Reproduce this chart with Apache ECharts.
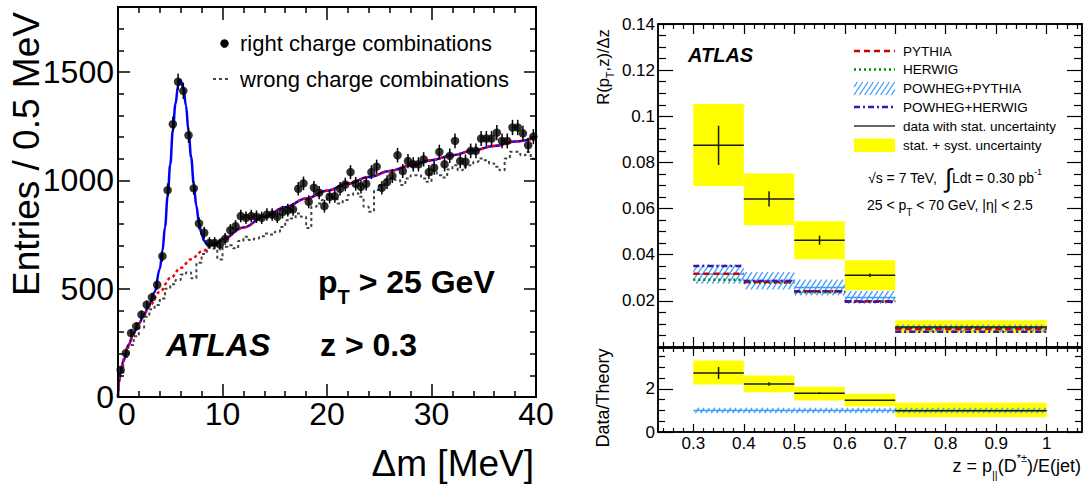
<!DOCTYPE html>
<html>
<head>
<meta charset="utf-8">
<script src="https://cdn.jsdelivr.net/npm/echarts@6/dist/echarts.min.js"></script>
<style>
  html, body { margin: 0; padding: 0; background: #fff; }
  #chart { width: 1085px; height: 491px; }
</style>
</head>
<body>
<div id="chart"></div>
<script>
const FONT = "'Liberation Sans', Arial, Helvetica, sans-serif";

// ---------- Left panel: D*-D0 mass difference (0.5 MeV bins) ----------
const dmCentres = [0.25,0.75,1.25,1.75,2.25,2.75,3.25,3.75,4.25,4.75,5.25,5.75,6.25,6.75,7.25,7.75,8.25,8.75,9.25,9.75,
  10.25,10.75,11.25,11.75,12.25,12.75,13.25,13.75,14.25,14.75,15.25,15.75,16.25,16.75,17.25,17.75,18.25,18.75,19.25,19.75,
  20.25,20.75,21.25,21.75,22.25,22.75,23.25,23.75,24.25,24.75,25.25,25.75,26.25,26.75,27.25,27.75,28.25,28.75,29.25,29.75,
  30.25,30.75,31.25,31.75,32.25,32.75,33.25,33.75,34.25,34.75,35.25,35.75,36.25,36.75,37.25,37.75,38.25,38.75,39.25,39.75];
const dmBinHalfWidth = 0.25;

const rightCharge = [125,202,295,326,380,426,460,518,650,955,1259,1455,1413,1208,963,801,758,711,711,704,
  730,770,788,835,827,835,832,827,842,842,832,853,862,866,961,986,901,966,943,881,
  924,927,961,981,1038,984,970,984,1038,1063,966,992,1020,1116,1043,1089,1074,1074,1097,1038,
  1058,1131,1074,1113,1182,1089,1086,1136,1136,1193,1193,1193,1220,1182,1182,1244,1244,1217,1162,1202];

const wrongCharge = [105,185,240,280,320,370,405,425,455,500,520,540,565,575,548,620,660,690,685,635,
  694,700,686,720,740,725,732,742,755,750,763,785,816,824,847,832,780,878,893,909,
  932,916,893,909,932,940,924,878,855,955,978,1001,1009,1001,978,1009,1024,1024,1009,993,
  1047,1024,1013,1050,1070,1047,1063,1070,1086,1101,1093,1078,1063,1047,1101,1132,1132,1116,1131,1100];

// background-only fit curve (sampled)
const bkgFitX = [0,0.1,0.25,0.5,1,1.5,2,2.5,3,4,5,6,7,8,9,10,12,14,16,18,20,22,24,26,28,30,32,34,36,38,40];
const bkgFitY = [0,70,110,165,240,295,340,382,420,485,548,596,636,670,700,728,782,832,876,916,952,985,1015,1043,1069,1093,1116,1138,1159,1179,1198];

// signal + background fit curve (sampled)
const fullFitX = [0,0.1,0.25,0.5,1,1.5,2,2.5,3,3.5,4,4.25,4.5,4.75,5,5.25,5.5,5.75,5.95,6.25,6.5,6.75,7,7.25,7.5,7.75,8,8.25,8.5,8.75,9,9.5,10,12,14,16,18,20,22,24,26,28,30,32,34,36,38,40];
const fullFitY = [0,70,110,165,240,295,340,382,427,484,591,675,785,926,1073,1231,1353,1436,1462,1428,1346,1228,1106,983,881,804,752,721,706,701,703,713,728,782,832,876,916,952,985,1015,1043,1069,1093,1116,1138,1159,1179,1198];

const dmTickLabels = [0,10,20,30,40];
const entriesTickLabels = [0,500,1000,1500];

// ---------- Right panel: fragmentation function in z ----------
const zLo = [0.3,0.4,0.5,0.6,0.7];
const zHi = [0.4,0.5,0.6,0.7,1.0];
const dataR      = [0.0874,0.0642,0.0463,0.0311,0.0087];
const dataRStat  = [0.0085,0.0033,0.0020,0.0008,0.0003];
const dataRTotLo = [0.0698,0.0528,0.0380,0.0246,0.0061];
const dataRTotHi = [0.1053,0.0752,0.0545,0.0376,0.0116];
const pythiaR    = [0.0318,0.0282,0.0242,0.0198,0.0078];
const herwigR    = [0.0292,0.0279,0.0237,0.0198,0.0082];
const powPyR     = [0.0316,0.0288,0.0258,0.0215,0.0082];
const powPyRLo   = [0.0275,0.0250,0.0224,0.0188,0.0066];
const powPyRHi   = [0.0357,0.0325,0.0292,0.0242,0.0097];
const powHwR     = [0.0351,0.0286,0.0242,0.0196,0.0066];

const ratio      = [2.74,2.23,1.80,1.47,0.99];
const ratioStat  = [0.28,0.08,0.04,0.02,0.01];
const ratioTotLo = [2.20,1.84,1.46,1.19,0.68];
const ratioTotHi = [3.32,2.62,2.10,1.78,1.36];
const theoryRatio   = [1,1,1,1,1];
const theoryRatioLo = [0.88,0.88,0.88,0.88,0.88];
const theoryRatioHi = [1.12,1.12,1.12,1.12,1.12];

const zTickLabels = [0.3,0.4,0.5,0.6,0.7,0.8,0.9,1];
const rTickLabels = [0.02,0.04,0.06,0.08,0.1,0.12,0.14];
const ratioTickLabels = [0,2];

// ---------- helpers ----------
function steps(from, to, step, skipEvery) {
  const out = [];
  const n = Math.round((to - from) / step);
  for (let i = 0; i <= n; i++) {
    const v = Math.round((from + i * step) * 1e6) / 1e6;
    if (skipEvery && Math.abs(v / skipEvery - Math.round(v / skipEvery)) < 1e-6) continue;
    out.push(v);
  }
  return out;
}

// four axes per direction: labelled major, minor, mirrored major, mirrored minor (ticks inward)
function frameAxes(grid, dir, c) {
  const sides = dir === 'x' ? ['bottom', 'top'] : ['left', 'right'];
  const out = [];
  sides.forEach((pos, s) => {
    [[c.major, c.majLen], [c.minor, c.minLen]].forEach(([vals, len], k) => {
      out.push({
        type: 'value', gridIndex: grid, position: pos, min: c.min, max: c.max,
        axisLine: { show: true, onZero: false, lineStyle: { color: '#000', width: c.lw } },
        axisTick: { show: true, inside: true, length: len, customValues: vals,
                    lineStyle: { color: '#000', width: c.tw } },
        axisLabel: Object.assign({ show: s === 0 && k === 0 && !!c.labels, customValues: c.labels || vals,
                    color: '#000', fontFamily: FONT, formatter: v => String(v) }, c.label || {}),
        splitLine: { show: false }, z: 10
      });
    });
  });
  return out;
}

function hatch(x0, y0, x1, y1, gap, slope, style) {
  // '/' strokes clipped to the rectangle [x0,x1]x[y0,y1] (pixels), phase-locked globally
  const els = [];
  const kStart = Math.ceil((y0 + slope * x0) / gap) * gap;
  const kEnd = y1 + slope * x1;
  for (let k = kStart; k <= kEnd; k += gap) {
    const c = k - slope * x0;
    let xa = Math.max(x0 + (c - y1) / slope, x0);
    let xb = Math.min(x0 + (c - y0) / slope, x1);
    if (xb - xa < 0.3) continue;
    els.push({ type: 'line', shape: { x1: xa, y1: c - slope * (xa - x0), x2: xb, y2: c - slope * (xb - x0) }, style });
  }
  return els;
}

const HATCH_STYLE = { stroke: '#3d9bff', lineWidth: 1.3 };

// ---------- series builders ----------
function boxSeries(xi, yi, lo, hi, ylo, yhi, fill, z) {
  return {
    type: 'custom', xAxisIndex: xi, yAxisIndex: yi, z: z,
    data: lo.map((v, i) => [v, hi[i], ylo[i], yhi[i]]),
    encode: { x: [0, 1], y: [2, 3] },
    renderItem: (p, api) => {
      const a = api.coord([api.value(0), api.value(3)]);
      const b = api.coord([api.value(1), api.value(2)]);
      return { type: 'rect', shape: { x: a[0], y: a[1], width: b[0] - a[0], height: b[1] - a[1] }, style: { fill } };
    }
  };
}
function hatchSeries(xi, yi, lo, hi, ylo, yhi, z) {
  return {
    type: 'custom', xAxisIndex: xi, yAxisIndex: yi, z: z,
    data: lo.map((v, i) => [v, hi[i], ylo[i], yhi[i]]),
    encode: { x: [0, 1], y: [2, 3] },
    renderItem: (p, api) => {
      const a = api.coord([api.value(0), api.value(3)]);
      const b = api.coord([api.value(1), api.value(2)]);
      return { type: 'group', children: hatch(a[0], a[1], b[0], b[1], 8, 1.5, HATCH_STYLE) };
    }
  };
}
function levelSeries(xi, yi, lo, hi, vals, style, z) {
  return {
    type: 'custom', xAxisIndex: xi, yAxisIndex: yi, z: z,
    data: lo.map((v, i) => [v, hi[i], vals[i]]),
    encode: { x: [0, 1], y: 2 },
    renderItem: (p, api) => {
      const a = api.coord([api.value(0), api.value(2)]);
      const b = api.coord([api.value(1), api.value(2)]);
      return { type: 'line', shape: { x1: a[0], y1: a[1], x2: b[0], y2: b[1] }, style: Object.assign({ fill: null }, style) };
    }
  };
}
function crossSeries(xi, yi, lo, hi, vals, errs, z) {
  return {
    type: 'custom', xAxisIndex: xi, yAxisIndex: yi, z: z,
    data: lo.map((v, i) => [v, hi[i], vals[i], errs[i]]),
    encode: { x: [0, 1], y: 2 },
    renderItem: (p, api) => {
      const lo = api.value(0), hi = api.value(1), y = api.value(2), e = api.value(3);
      const a = api.coord([lo, y]), b = api.coord([hi, y]);
      const m = (lo + hi) / 2;
      const t = api.coord([m, y + e]), u = api.coord([m, y - e]);
      const st = { stroke: '#1a1a1a', lineWidth: 1.5 };
      return { type: 'group', children: [
        { type: 'line', shape: { x1: a[0], y1: a[1], x2: b[0], y2: b[1] }, style: st },
        { type: 'line', shape: { x1: t[0], y1: t[1], x2: u[0], y2: u[1] }, style: st }
      ] };
    }
  };
}

// step-histogram outline for the wrong-charge sample
const wrongStep = [];
dmCentres.forEach((c, i) => {
  wrongStep.push([c - dmBinHalfWidth, wrongCharge[i]]);
  wrongStep.push([c + dmBinHalfWidth, wrongCharge[i]]);
});

const PY = { stroke: '#cc0000', lineWidth: 2.5, lineDash: [6, 4] };
const HW = { stroke: '#008a00', lineWidth: 2.5, lineDash: [2, 3] };
const PH = { stroke: '#3b14b4', lineWidth: 2.5, lineDash: [6, 3, 2, 3] };
const PP = { stroke: '#3d9bff', lineWidth: 1.5 };

// ---------- axes ----------
const xAxes = [].concat(
  frameAxes(0, 'x', { min: 0, max: 40, major: dmTickLabels, labels: dmTickLabels, minor: steps(0, 40, 2, 10),
    majLen: 13, minLen: 6, lw: 2, tw: 1.5, label: { fontSize: 32, margin: 1, alignMinLabel: 'left' } }),
  frameAxes(1, 'x', { min: 0.23, max: 1.07, major: zTickLabels, labels: null, minor: steps(0.24, 1.06, 0.02, 0.1),
    majLen: 10, minLen: 5, lw: 1.5, tw: 1.2 }),
  frameAxes(2, 'x', { min: 0.23, max: 1.07, major: zTickLabels, labels: zTickLabels, minor: steps(0.24, 1.06, 0.02, 0.1),
    majLen: 8, minLen: 4, lw: 1.5, tw: 1.2, label: { fontSize: 17, margin: 3 } })
);
const yAxes = [].concat(
  frameAxes(0, 'y', { min: 0, max: 1800, major: entriesTickLabels, labels: entriesTickLabels, minor: steps(100, 1700, 100, 500),
    majLen: 12, minLen: 6, lw: 2, tw: 1.5, label: { fontSize: 32, margin: 4 } }),
  frameAxes(1, 'y', { min: 0, max: 0.14, major: rTickLabels, labels: rTickLabels, minor: steps(0.005, 0.135, 0.005, 0.02),
    majLen: 15, minLen: 8, lw: 1.5, tw: 1.2, label: { fontSize: 17, margin: 3 } }),
  frameAxes(2, 'y', { min: 0, max: 3.9, major: ratioTickLabels, labels: ratioTickLabels, minor: steps(0.5, 3.5, 0.5, 2),
    majLen: 15, minLen: 7, lw: 1.5, tw: 1.2, label: { fontSize: 17, margin: 3 } })
);

// ---------- text & legends ----------
const T = (x, y, text, st, extra) => Object.assign({ type: 'text', x, y, z: 100,
  style: Object.assign({ text, fill: '#000', fontFamily: FONT, align: 'left', verticalAlign: 'middle' }, st) }, extra || {});
const L = (x1, y1, x2, y2, st) => ({ type: 'line', z: 100, shape: { x1, y1, x2, y2 }, style: st });

const graphics = [
  // left panel
  T(26, 154, 'Entries / 0.5 MeV', { fontSize: 37, align: 'center' }, { rotation: Math.PI / 2 }),
  T(534, 463, 'Δm [MeV]', { fontSize: 37, align: 'right' }),
  { type: 'circle', z: 100, shape: { cx: 224.5, cy: 43.5, r: 4.2 }, style: { fill: '#000' } },
  T(240, 43, 'right charge combinations', { fontSize: 22 }),
  L(213, 79, 231, 79, { stroke: '#444', lineWidth: 2, lineDash: [3, 3] }),
  T(240, 79, 'wrong charge combinations', { fontSize: 22 }),
  T(318, 282, '{m|p}{s|T}{m| > 25 GeV}', { rich: {
      m: { fontSize: 32, fontWeight: 'bold', fontFamily: FONT, lineHeight: 50 },
      s: { fontSize: 20, fontWeight: 'bold', fontFamily: FONT, lineHeight: 16, verticalAlign: 'bottom' } } }),
  T(166, 345, 'ATLAS', { fontSize: 32, fontWeight: 'bold', fontStyle: 'italic' }),
  T(320, 345, 'z > 0.3', { fontSize: 32, fontWeight: 'bold' }),

  // right panel
  T(603, 67, '{m|R(p}{s|T}{m|,z)/Δz}', { align: 'center', rich: {
      m: { fontSize: 16.5, fontFamily: FONT, lineHeight: 24 },
      s: { fontSize: 11, fontFamily: FONT, lineHeight: 10, verticalAlign: 'bottom' } } }, { rotation: Math.PI / 2 }),
  T(603, 398, 'Data/Theory', { fontSize: 18, align: 'center' }, { rotation: Math.PI / 2 }),
  T(1081, 466, '{m|z = p}{s|||}{m|(D}{u|*±}{m|)/E(jet)}', { align: 'right', rich: {
      m: { fontSize: 18, fontFamily: FONT, lineHeight: 28 },
      s: { fontSize: 11, fontFamily: FONT, lineHeight: 11, verticalAlign: 'bottom' },
      u: { fontSize: 11, fontFamily: FONT, lineHeight: 11, verticalAlign: 'top' } } }),
  T(688, 55, 'ATLAS', { fontSize: 20, fontWeight: 'bold', fontStyle: 'italic' }),

  L(854, 51, 895, 51, PY),
  T(903, 51, 'PYTHIA', { fontSize: 13.5 }),
  L(854, 69.5, 895, 69.5, HW),
  T(903, 69.5, 'HERWIG', { fontSize: 13.5 }),
  { type: 'group', z: 100, children: hatch(854, 82, 895, 95, 8, 1.5, HATCH_STYLE) },
  T(903, 88.5, 'POWHEG+PYTHIA', { fontSize: 13.5 }),
  L(854, 107, 895, 107, PH),
  T(903, 107, 'POWHEG+HERWIG', { fontSize: 13.5 }),
  L(854, 126, 895, 126, { stroke: '#666', lineWidth: 2 }),
  T(903, 126, 'data with stat. uncertainty', { fontSize: 13.5 }),
  { type: 'rect', z: 100, shape: { x: 854, y: 138.5, width: 41, height: 13.5 }, style: { fill: '#ffff00' } },
  T(903, 145, 'stat. + syst. uncertainty', { fontSize: 13.5 }),

  T(868, 178, '{m|√s = 7 TeV,  }{i|∫}{m|Ldt = 0.30 pb}{u|-1}', { rich: {
      m: { fontSize: 14, fontFamily: FONT, lineHeight: 22 },
      i: { fontSize: 26, fontFamily: FONT, lineHeight: 22 },
      u: { fontSize: 9, fontFamily: FONT, lineHeight: 9, verticalAlign: 'top' } } }),
  T(867, 205, '{m|25 < p}{s|T}{m| < 70 GeV, |η| < 2.5}', { rich: {
      m: { fontSize: 14, fontFamily: FONT, lineHeight: 24 },
      s: { fontSize: 10, fontFamily: FONT, lineHeight: 10, verticalAlign: 'bottom' } } })
];

// ---------- option ----------
const option = {
  animation: false,
  backgroundColor: '#fff',
  grid: [
    { left: 118, top: 7, width: 418, height: 390 },
    { left: 658, top: 24, width: 424, height: 323 },
    { left: 658, top: 348, width: 424, height: 84 }
  ],
  xAxis: xAxes,
  yAxis: yAxes,
  series: [
    // left panel
    { type: 'line', xAxisIndex: 0, yAxisIndex: 0, data: wrongStep, showSymbol: false, z: 2,
      lineStyle: { color: '#444', width: 2, type: [3, 3] } },
    { type: 'line', xAxisIndex: 0, yAxisIndex: 0, data: fullFitX.map((x, i) => [x, fullFitY[i]]), showSymbol: false,
      smooth: 0.4, smoothMonotone: 'x', z: 3, lineStyle: { color: '#0000ff', width: 2.5 } },
    { type: 'line', xAxisIndex: 0, yAxisIndex: 0, data: bkgFitX.map((x, i) => [x, bkgFitY[i]]), showSymbol: false,
      smooth: 0.4, smoothMonotone: 'x', z: 4, lineStyle: { color: '#ff0000', width: 2.5, type: [3, 3] } },
    { type: 'custom', xAxisIndex: 0, yAxisIndex: 0, z: 5,
      // Poisson uncertainty on each bin count
      data: dmCentres.map((x, i) => [x, rightCharge[i], Math.sqrt(rightCharge[i])]),
      encode: { x: 0, y: 1 },
      renderItem: (p, api) => {
        const x = api.value(0), y = api.value(1), e = api.value(2);
        const a = api.coord([x, y - e]), b = api.coord([x, y + e]);
        return { type: 'line', shape: { x1: a[0], y1: a[1], x2: b[0], y2: b[1] }, style: { stroke: '#000', lineWidth: 1.5 } };
      } },
    { type: 'scatter', xAxisIndex: 0, yAxisIndex: 0, z: 6, symbol: 'circle', symbolSize: 8.5,
      itemStyle: { color: '#000' }, data: dmCentres.map((x, i) => [x, rightCharge[i]]) },

    // right panel, upper
    boxSeries(4, 4, zLo, zHi, dataRTotLo, dataRTotHi, '#ffff00', 2),
    hatchSeries(4, 4, zLo, zHi, powPyRLo, powPyRHi, 3),
    levelSeries(4, 4, zLo, zHi, powPyR, PP, 4),
    levelSeries(4, 4, zLo, zHi, herwigR, HW, 5),
    levelSeries(4, 4, zLo, zHi, pythiaR, PY, 6),
    levelSeries(4, 4, zLo, zHi, powHwR, PH, 7),
    crossSeries(4, 4, zLo, zHi, dataR, dataRStat, 8),

    // right panel, ratio
    boxSeries(8, 8, zLo, zHi, ratioTotLo, ratioTotHi, '#ffff00', 2),
    hatchSeries(8, 8, zLo, zHi, theoryRatioLo, theoryRatioHi, 3),
    levelSeries(8, 8, zLo, zHi, theoryRatio, PP, 4),
    crossSeries(8, 8, zLo, zHi, ratio, ratioStat, 8)
  ],
  graphic: { elements: graphics }
};

const chart = echarts.init(document.getElementById('chart'), null, { renderer: 'svg' });
chart.setOption(option);
</script>
</body>
</html>
